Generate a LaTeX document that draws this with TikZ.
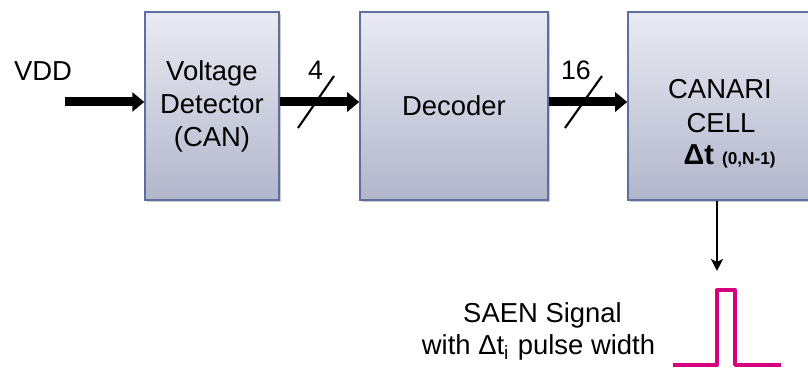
\documentclass[tikz,border=0pt]{standalone}
\usepackage{fontspec}
\setmainfont{Liberation Sans}
\usetikzlibrary{arrows.meta,shadows}
\definecolor{boxtop}{RGB}{233,234,242}
\definecolor{boxbot}{RGB}{178,182,203}
\definecolor{boxline}{RGB}{94,110,158}
\definecolor{pulsecol}{RGB}{214,0,127}
\tikzset{
  blockbox/.style={draw=boxline, line width=0.4pt, top color=boxtop, bottom color=boxbot,
    minimum height=1.88cm, align=center, inner sep=0pt,
    drop shadow={shadow xshift=0.02cm, shadow yshift=-0.02cm, fill=black!40, opacity=0.5},
    font=\fontsize{7.8}{9.4}\selectfont},
  txt/.style={inner sep=0pt, font=\fontsize{7.8}{9.4}\selectfont},
  smalltxt/.style={inner sep=0pt, font=\fontsize{7.6}{9}\selectfont},
  bus/.style={line width=0.09cm, -{Triangle[length=0.12cm,width=0.19cm]}},
  slashline/.style={line width=0.6pt},
  thinarrow/.style={line width=0.7pt, -{Stealth[length=0.12cm,width=0.12cm,inset=0.03cm]}},
  pulse/.style={draw=pulsecol, line width=1.1pt, line join=round}
}
\begin{document}
\begin{tikzpicture}[x=0.01cm,y=-0.01cm]
\useasboundingbox (0,0) rectangle (808,368);
\clip (0,0) rectangle (808,368);
% blocks
\node[blockbox, minimum width=1.34cm] (vdt) at (212,106) {Voltage\\Detector\\(CAN)};
\node[blockbox, minimum width=1.88cm] (dec) at (454,106) {Decoder};
\node[blockbox, minimum width=2.00cm] (can) at (728,106) {};
% texts in CANARI cell
\node[txt, anchor=base] (cantxt) at (720,99) {CANARI};
\node[txt, anchor=base] (celltxt) at (721,133) {CELL};
\node[txt, anchor=base west] (dttxt) at (683,165) {\fontsize{8.2}{9.4}\selectfont\textbf{Δt} {\fontsize{4.9}{6}\selectfont\bfseries(0,N-1)}};
% input
\node[txt, anchor=base] (vdd) at (43,81) {VDD};
\coordinate (vddin) at (65,102);
\draw[bus] (vddin) -- (vddin -| vdt.west);
\draw[bus] ([yshift=0.04cm]vdt.east) -- ([yshift=0.04cm]dec.west);
\draw[bus] ([yshift=0.04cm]dec.east) -- ([yshift=0.04cm]can.west);
% bus slashes
\coordinate (s1a) at (298,128); \coordinate (s1b) at (334,76);
\coordinate (s2a) at (565,128); \coordinate (s2b) at (602,76);
\draw[slashline] (s1a) -- (s1b);
\draw[slashline] (s2a) -- (s2b);
\node[smalltxt, anchor=base] (n4) at (315.5,80) {4};
\node[smalltxt, anchor=base] (n16) at (576,80) {16};
% output
\coordinate (sigtop) at (717,271);
\draw[thinarrow] (can.south -| sigtop) -- (sigtop);
\coordinate (p0) at (673,365);
\coordinate (p1) at (717,365);
\coordinate (p2) at (717,290);
\coordinate (p3) at (735,290);
\coordinate (p4) at (735,365);
\coordinate (p5) at (781,365);
\draw[pulse] (p0) -- (p1) -- (p2) -- (p3) -- (p4) -- (p5);
\node[txt, anchor=base] (saen1) at (542.5,323) {SAEN Signal};
\node[txt, anchor=base] (saen2) at (538.5,355) {with Δt\textsubscript{i} pulse width};
\end{tikzpicture}
\end{document}
